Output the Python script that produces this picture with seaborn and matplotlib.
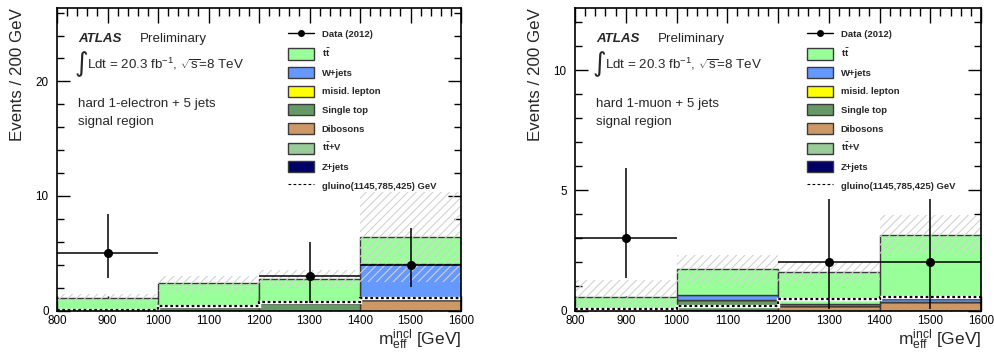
import numpy as np
import pandas as pd
import matplotlib
matplotlib.use("Agg")
import matplotlib.pyplot as plt
import matplotlib.patches as mpatches
from matplotlib.lines import Line2D
from matplotlib.ticker import MultipleLocator
import seaborn as sns

# ---------------- data ----------------
bin_edges = [800, 1000, 1200, 1400, 1600]
bin_centers = [900, 1100, 1300, 1500]

components = ["ttbar", "W+jets", "misid. lepton", "Single top", "Dibosons", "ttV", "Z+jets"]
legend_labels = [r"$\mathbf{t\bar{t}}$", "W+jets", "misid. lepton", "Single top",
                 "Dibosons", r"$\mathbf{t\bar{t}}$+V", "Z+jets"]
colors = ["#99ff99", "#6699ff", "#ffff00", "#669966", "#cc9966", "#99cc99", "#000066"]

# electron channel (per bin)
el_ttbar = [1.03, 2.09, 2.12, 2.28]
el_wjets = [0.0, 0.0, 0.0, 3.20]
el_misid = [0.0, 0.0, 0.0, 0.0]
el_stop = [0.03, 0.25, 0.63, 0.0]
el_dibos = [0.0, 0.03, 0.0, 0.90]
el_ttv = [0.0, 0.0, 0.0, 0.0]
el_zjets = [0.0, 0.0, 0.0, 0.0]
el_band_lo = [0.72, 1.71, 2.00, 2.46]
el_band_hi = [1.40, 3.03, 3.50, 10.30]
el_gluino = [0.05, 0.42, 0.72, 1.06]
el_data_x = [900, 1300, 1500]
el_data = [5, 3, 4]
el_data_lo = [2.86, 0.65, 2.07]
el_data_hi = [8.40, 5.95, 7.20]

# muon channel (per bin)
mu_ttbar = [0.50, 1.09, 1.33, 2.68]
mu_wjets = [0.0, 0.21, 0.08, 0.11]
mu_misid = [0.0, 0.0, 0.0, 0.0]
mu_stop = [0.08, 0.40, 0.0, 0.0]
mu_dibos = [0.0, 0.04, 0.19, 0.37]
mu_ttv = [0.0, 0.0, 0.0, 0.0]
mu_zjets = [0.0, 0.0, 0.0, 0.0]
mu_band_lo = [0.0, 1.16, 1.17, 2.35]
mu_band_hi = [1.28, 2.32, 2.03, 3.97]
mu_gluino = [0.08, 0.20, 0.48, 0.55]
mu_data_x = [900, 1300, 1500]
mu_data = [3, 2, 2]
mu_data_lo = [1.37, 0.05, 0.05]
mu_data_hi = [5.95, 4.65, 4.65]

# ---------------- style ----------------
sns.set_style("ticks")
plt.rcParams["font.family"] = ["Liberation Sans", "DejaVu Sans"]
plt.rcParams["mathtext.fontset"] = "custom"
plt.rcParams["mathtext.rm"] = "Liberation Sans"
plt.rcParams["mathtext.it"] = "Liberation Sans:italic"
plt.rcParams["mathtext.bf"] = "Liberation Sans:bold"
plt.rcParams["hatch.linewidth"] = 0.8

W, H = 994, 354
fig = plt.figure(figsize=(W / 100, H / 100), dpi=100)


def px(x, y):
    return x / W, 1 - y / H


def draw_panel(ax, comps, band_lo, band_hi, gluino, dx, dy, dlo, dhi,
               ymax, ymajor, yminor, region_text, x0):
    rows = []
    for name, vals in zip(components, comps):
        for c, v in zip(bin_centers, vals):
            rows.append({"m": c, "w": v, "comp": name})
    df = pd.DataFrame(rows)
    sns.histplot(data=df, x="m", weights="w", hue="comp", hue_order=components,
                 multiple="stack", bins=bin_edges, element="bars", shrink=1,
                 palette=dict(zip(components, colors)), alpha=1,
                 edgecolor="#3a3a3a", linewidth=1.0, legend=False, ax=ax)
    # uncertainty band
    lo = np.array(band_lo)
    hi = np.array(band_hi)
    ax.bar(bin_centers, hi - lo, bottom=lo, width=200, fill=False,
           hatch="////", edgecolor="#d2d2d2", linewidth=0, zorder=3)
    # signal
    ax.stairs(gluino, bin_edges, color="white", lw=2.4, zorder=4, baseline=None)
    ax.stairs(gluino, bin_edges, color="black", lw=1.6, ls=(0, (1.2, 1.2)),
              zorder=5, baseline=None)
    # data
    d = np.array(dy)
    ax.errorbar(dx, d, yerr=[d - np.array(dlo), np.array(dhi) - d], xerr=100,
                fmt="o", color="black", ms=5.5, lw=1.1, capsize=0, zorder=6)

    ax.set_xlim(800, 1600)
    ax.set_ylim(0, ymax)
    ax.xaxis.set_major_locator(MultipleLocator(100))
    ax.xaxis.set_minor_locator(MultipleLocator(20))
    ax.yaxis.set_major_locator(MultipleLocator(ymajor))
    ax.yaxis.set_minor_locator(MultipleLocator(yminor))
    ax.tick_params(axis="both", which="both", direction="in", top=True, right=True,
                   width=1.0, colors="black", labelsize=8.4)
    ax.tick_params(axis="x", which="major", length=11, pad=3.5)
    ax.tick_params(axis="x", which="minor", length=5.5)
    ax.tick_params(axis="y", which="major", length=9.5, pad=6)
    ax.tick_params(axis="y", which="minor", length=5)
    for s in ax.spines.values():
        s.set_linewidth(1.2)
        s.set_color("black")
        s.set_zorder(10)
    ax.set_xlabel(r"$\mathrm{m}_{\mathrm{eff}}^{\mathrm{incl}}$ [GeV]", loc="right",
                  fontsize=12.5, labelpad=0)
    ax.set_ylabel("Events / 200 GeV", loc="top", fontsize=12.2, labelpad=8)

    # texts
    fig.text(*px(x0 + 21, 42), "ATLAS", fontsize=9.6, fontweight="bold",
             fontstyle="italic", va="baseline", ha="left")
    fig.text(*px(x0 + 83, 42), "Preliminary", fontsize=9.6, va="baseline", ha="left")
    fig.text(*px(x0 + 18, 64), "\u222b", fontsize=19, va="center", ha="left",
             family=["DejaVu Sans"])
    fig.text(*px(x0 + 30, 68.5), r"Ldt = 20.3 fb$^{-1}$, $\sqrt{\mathrm{s}}$=8 TeV",
             fontsize=9.6, va="baseline", ha="left")
    fig.text(*px(x0 + 21, 107), region_text, fontsize=9.6, va="baseline", ha="left")
    fig.text(*px(x0 + 21, 125), "signal region", fontsize=9.6, va="baseline", ha="left")

    # legend
    handles = [Line2D([], [], color="black", marker="o", ms=4, lw=1.0)]
    labels = ["Data (2012)"]
    for lab, col in zip(legend_labels, colors):
        handles.append(mpatches.Patch(facecolor=col, edgecolor="#3a3a3a", lw=1.0))
        labels.append(lab)
    handles.append(Line2D([], [], color="black", lw=0.8, ls=(0, (2.5, 2))))
    labels.append("gluino(1145,785,425) GeV")
    leg = ax.legend(handles, labels, loc="upper left", bbox_to_anchor=(0.572, 0.932),
                    frameon=False, borderpad=0, borderaxespad=0,
                    prop={"size": 6.8, "weight": "bold"},
                    handlelength=2.75, handleheight=1.45, handletextpad=0.8,
                    labelspacing=0.78)
    leg.set_zorder(12)


ax1 = fig.add_axes([57 / W, 43.5 / H, 404 / W, 302.5 / H])
ax2 = fig.add_axes([575 / W, 43.5 / H, 406 / W, 302.5 / H])

draw_panel(ax1, [el_ttbar, el_wjets, el_misid, el_stop, el_dibos, el_ttv, el_zjets],
           el_band_lo, el_band_hi, el_gluino, el_data_x, el_data, el_data_lo, el_data_hi,
           26.4, 10, 2, "hard 1-electron + 5 jets", 57)
draw_panel(ax2, [mu_ttbar, mu_wjets, mu_misid, mu_stop, mu_dibos, mu_ttv, mu_zjets],
           mu_band_lo, mu_band_hi, mu_gluino, mu_data_x, mu_data, mu_data_lo, mu_data_hi,
           12.6, 5, 1, "hard 1-muon + 5 jets", 575)

fig.savefig("out.png", dpi=100)
